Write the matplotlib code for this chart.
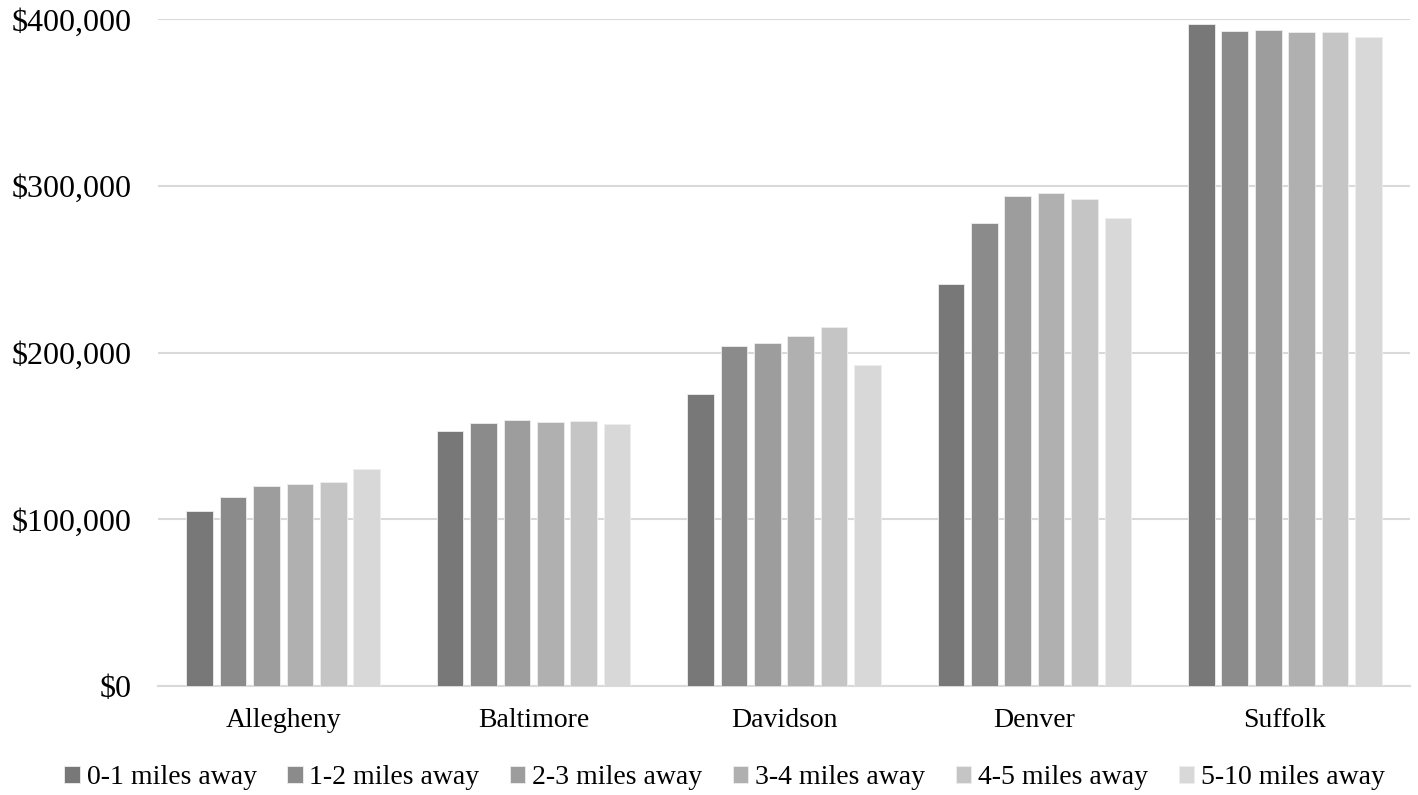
import matplotlib.pyplot as plt
import numpy as np
from matplotlib.ticker import FuncFormatter

plt.rcParams['font.family'] = ['Liberation Serif', 'DejaVu Serif']

# counties and distance bands
counties = ['Allegheny', 'Baltimore', 'Davidson', 'Denver', 'Suffolk']
bands = ['0-1 miles away', '1-2 miles away', '2-3 miles away',
         '3-4 miles away', '4-5 miles away', '5-10 miles away']

# median values per band, one list per distance band (in county order)
band_0_1 = [105000, 153000, 175500, 241000, 397000]
band_1_2 = [113500, 158000, 204200, 278000, 392800]
band_2_3 = [120000, 159800, 206000, 294300, 393400]
band_3_4 = [121300, 158500, 210200, 296000, 392200]
band_4_5 = [122500, 159200, 215500, 292500, 392200]
band_5_10 = [130000, 157400, 192800, 281000, 389300]

series = [band_0_1, band_1_2, band_2_3, band_3_4, band_4_5, band_5_10]
colors = ['#787878', '#8b8b8b', '#9d9d9d', '#b0b0b0', '#c5c5c5', '#d8d8d8']

fig = plt.figure(figsize=(14.18, 7.95), dpi=100)
ax = fig.add_axes([0.1114, 0.137, 0.883, 0.8385])

x = np.arange(len(counties))
slot = 0.8 / len(series)
width = slot * 0.8
for i, (vals, c, lab) in enumerate(zip(series, colors, bands)):
    offs = (i - (len(series) - 1) / 2) * slot
    ax.bar(x + offs, vals, width, color=c, label=lab,
           edgecolor='#eeeeee', linewidth=0.6, zorder=3)

ax.set_xlim(-0.5, len(counties) - 0.5)
ax.set_ylim(0, 400000)
ax.set_yticks(np.arange(0, 400001, 100000))
ax.yaxis.set_major_formatter(FuncFormatter(lambda v, p: '${:,.0f}'.format(v)))
ax.set_xticks(x)
ax.set_xticklabels(counties)

ax.grid(axis='y', color='#d9d9d9', linewidth=1.5, zorder=0)
for s in ['top', 'right', 'left']:
    ax.spines[s].set_visible(False)
ax.spines['bottom'].set_color('#d9d9d9')
ax.spines['bottom'].set_linewidth(1.5)
ax.tick_params(axis='y', length=0, labelsize=23, pad=19)
ax.tick_params(axis='x', length=0, labelsize=20, pad=16)

fig.legend(loc='center', bbox_to_anchor=(0.511, 0.022), ncol=6, frameon=False,
           fontsize=20, handlelength=0.55, handleheight=0.55,
           handletextpad=0.25, columnspacing=1.1)

fig.savefig('out.png', dpi=100)
